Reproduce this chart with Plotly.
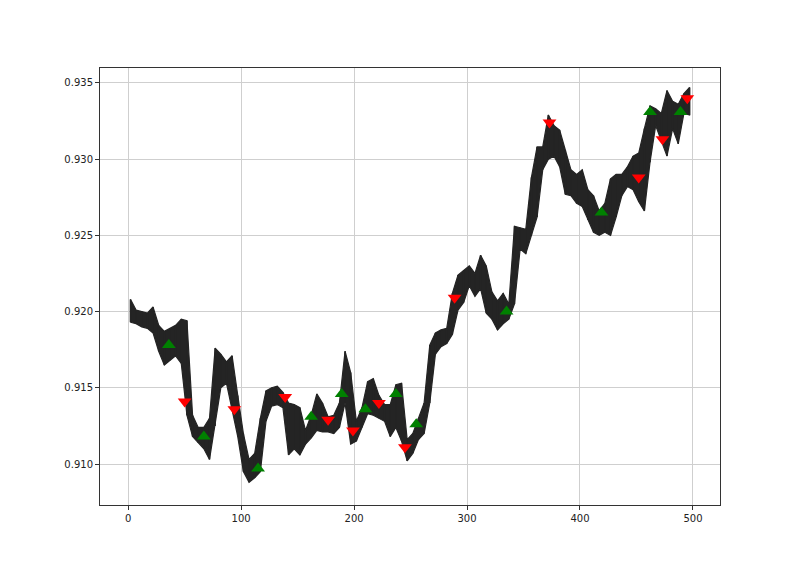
import plotly.graph_objects as go

# Price envelope per 5-bar group (bars g .. g+4)
group_start = list(range(0, 500, 5))
group_high = [
    0.9208, 0.9201, 0.9200, 0.9199, 0.9203, 0.9191, 0.9187, 0.9189, 0.9191, 0.9195,
    0.9194, 0.9132, 0.9124, 0.9124, 0.9130, 0.9176, 0.9172, 0.9167, 0.9171, 0.9145,
    0.9120, 0.9103, 0.9107, 0.9130, 0.9148, 0.9150, 0.9151, 0.9147, 0.9140, 0.9139,
    0.9137, 0.9122, 0.9132, 0.9146, 0.9140, 0.9131, 0.9132, 0.9140, 0.9174, 0.9160,
    0.9128, 0.9137, 0.9154, 0.9156, 0.9145, 0.9139, 0.9139, 0.9152, 0.9153, 0.9116,
    0.9120, 0.9130, 0.9140, 0.9178, 0.9186, 0.9188, 0.9189, 0.9212, 0.9224, 0.9227,
    0.9230, 0.9225, 0.9237, 0.9230, 0.9213, 0.9207, 0.9212, 0.9205, 0.9256, 0.9255,
    0.9254, 0.9288, 0.9308, 0.9308, 0.9329, 0.9322, 0.9319, 0.9306, 0.9293, 0.9290,
    0.9293, 0.9280, 0.9276, 0.9266, 0.9271, 0.9287, 0.9290, 0.9290, 0.9295, 0.9302,
    0.9304, 0.9320, 0.9335, 0.9333, 0.9330, 0.9345, 0.9338, 0.9336, 0.9343, 0.9347,
]
group_low = [
    0.9193, 0.9192, 0.9190, 0.9189, 0.9186, 0.9174, 0.9165, 0.9168, 0.9171, 0.9166,
    0.9132, 0.9118, 0.9114, 0.9110, 0.9103, 0.9125, 0.9150, 0.9153, 0.9135, 0.9118,
    0.9095, 0.9088, 0.9091, 0.9095, 0.9128, 0.9138, 0.9139, 0.9137, 0.9106, 0.9110,
    0.9106, 0.9113, 0.9117, 0.9122, 0.9121, 0.9121, 0.9120, 0.9124, 0.9140, 0.9113,
    0.9115, 0.9124, 0.9133, 0.9132, 0.9130, 0.9128, 0.9118, 0.9124, 0.9115, 0.9102,
    0.9107, 0.9116, 0.9120, 0.9140, 0.9172, 0.9177, 0.9179, 0.9185, 0.9201, 0.9206,
    0.9217, 0.9210, 0.9215, 0.9199, 0.9195, 0.9188, 0.9192, 0.9195, 0.9205, 0.9241,
    0.9238, 0.9250, 0.9262, 0.9293, 0.9300, 0.9302, 0.9295, 0.9277, 0.9276, 0.9271,
    0.9269, 0.9260, 0.9252, 0.9250, 0.9252, 0.9250, 0.9262, 0.9276, 0.9282, 0.9280,
    0.9272, 0.9266, 0.9298, 0.9322, 0.9312, 0.9302, 0.9320, 0.9310, 0.9330, 0.9329,
]

# Signals
buy_x = [36, 67, 115, 162, 189, 210, 237, 255, 335, 419, 462, 489]
buy_y = [0.9178, 0.9118, 0.9097, 0.9131, 0.9146, 0.9136, 0.9146, 0.9126, 0.9200, 0.9265, 0.9331, 0.9331]
sell_x = [50, 94, 139, 177, 199, 222, 245, 289, 373, 452, 473, 495]
sell_y = [0.9141, 0.9136, 0.9144, 0.9129, 0.9122, 0.9140, 0.9111, 0.9209, 0.9324, 0.9288, 0.9313, 0.9340]

x_ticks = [0, 100, 200, 300, 400, 500]
y_ticks = [0.910, 0.915, 0.920, 0.925, 0.930, 0.935]

centers = [g + 2 for g in group_start]
band_x = centers + centers[::-1]
band_y = group_high + group_low[::-1]

band_color = "#242424"

fig = go.Figure()
fig.add_trace(go.Scatter(
    x=band_x, y=band_y, mode="lines", fill="toself",
    fillcolor=band_color, line=dict(color=band_color, width=1.2),
    showlegend=False, hoverinfo="skip",
))
# thin high-low strokes at each group
spike_x, spike_y = [], []
for c, h, l in zip(centers, group_high, group_low):
    spike_x += [c, c, None]
    spike_y += [l, h, None]
fig.add_trace(go.Scatter(
    x=spike_x, y=spike_y, mode="lines",
    line=dict(color=band_color, width=1.5),
    showlegend=False, hoverinfo="skip",
))
fig.add_trace(go.Scatter(
    x=buy_x, y=buy_y, mode="markers",
    marker=dict(symbol="triangle-up", size=12, color="green"),
    showlegend=False,
))
fig.add_trace(go.Scatter(
    x=sell_x, y=sell_y, mode="markers",
    marker=dict(symbol="triangle-down", size=12, color="red"),
    showlegend=False,
))

axis_common = dict(
    showgrid=True, gridcolor="#cfcfcf", gridwidth=1,
    showline=True, linecolor="#333333", linewidth=1, mirror=True,
    ticks="outside", ticklen=4, tickcolor="#333333",
    tickfont=dict(family="DejaVu Sans", size=10, color="#222222"),
    zeroline=False,
)

fig.update_layout(
    width=784, height=550,
    paper_bgcolor="white", plot_bgcolor="white",
    margin=dict(l=92, r=72, t=60, b=53),
    xaxis=dict(range=[-24.95, 523.95], tickvals=x_ticks,
               ticktext=[str(t) for t in x_ticks], **axis_common),
    yaxis=dict(range=[0.90731, 0.93598], tickvals=y_ticks,
               ticktext=[f"{t:.3f}" for t in y_ticks], **axis_common),
)

fig.write_html("out.html")
